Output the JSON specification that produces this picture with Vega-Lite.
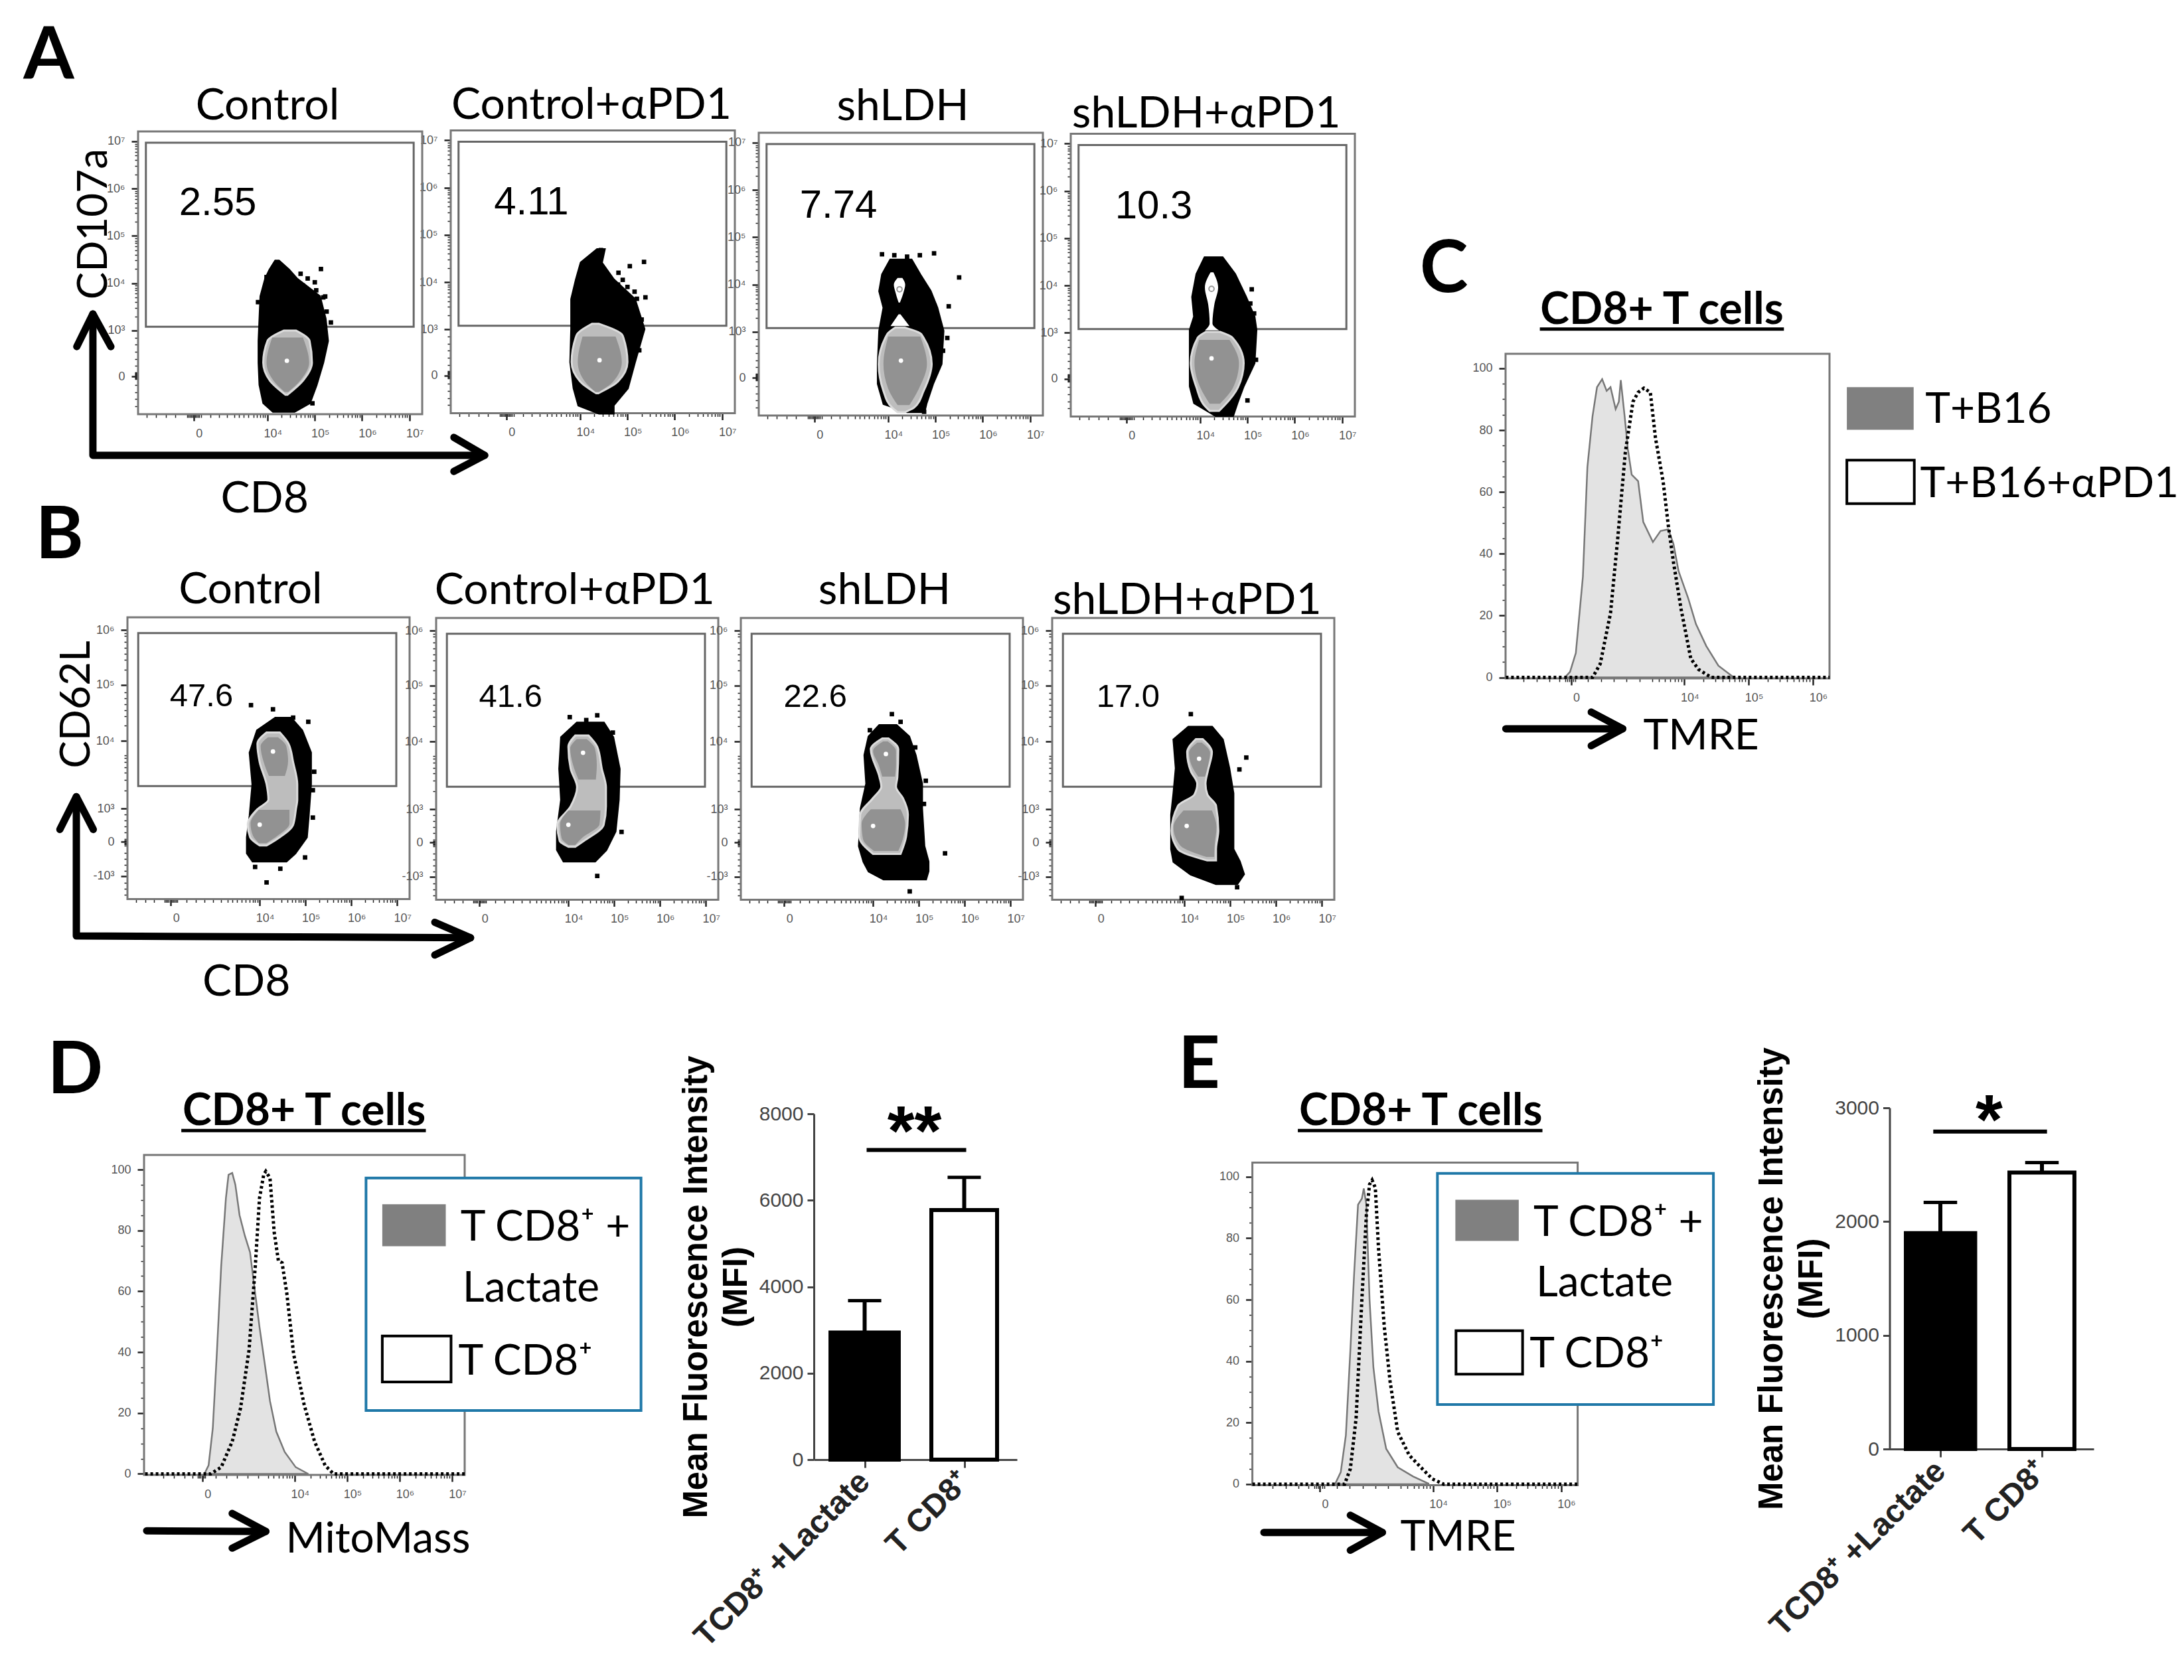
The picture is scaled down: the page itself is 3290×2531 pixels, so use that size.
{"$schema":"https://vega.github.io/schema/vega-lite/v6.json","padding":0,"background":"white","bounds":"flush","align":"none","columns":1,"spacing":{"row":-2531,"column":0},
"config":{"view":{"stroke":null},"mark":{"color":"#000"},"axis":{"grid":false,"domain":false,"tickColor":"#222","tickWidth":2.5,"tickSize":10,"labelFont":"Liberation Sans","labelFontSize":18,"labelColor":"#555","labelPadding":10,"labelFlush":false,"labelOverlap":false,"labelLimit":600},"axisX":{"labelOffset":8},
"style":{"ttl":{"font":"Lato","fontSize":66,"align":"center","baseline":"middle"},"val":{"font":"Liberation Sans","fontSize":60,"align":"left","baseline":"middle"},"valb":{"font":"Liberation Sans","fontSize":49,"align":"left","baseline":"middle"},"let":{"font":"Lato","fontSize":110,"fontWeight":"bold","align":"left","baseline":"middle"},"rot":{"font":"Lato","fontSize":62,"angle":270,"align":"center","baseline":"middle"},"hd":{"font":"Lato","fontSize":66,"fontWeight":"bold","align":"center","baseline":"middle"},"lg":{"font":"Lato","fontSize":64,"align":"left","baseline":"middle"},"gate":{"fillOpacity":0,"stroke":"#666","strokeWidth":3},"fr":{"fillOpacity":0,"stroke":"#777","strokeWidth":3},"blob":{"stroke":"#000","strokeWidth":4},"c1":{"interpolate":"monotone","stroke":"#dcdcdc","strokeWidth":3},"c2":{"interpolate":"monotone"},"hole":{"interpolate":"monotone"},"wp":{"size":45,"opacity":1},"bp":{"size":45,"opacity":1},"rg":{"stroke":"#999","strokeWidth":2,"size":60,"opacity":1},"arr":{"strokeWidth":11,"strokeCap":"round","strokeJoin":"round"},"ln":{"strokeWidth":5},"hg":{"stroke":"#777","strokeWidth":2.5},"hdot":{"strokeWidth":5,"strokeDash":[4,4]},"box":{"stroke":"#1f78a8","strokeWidth":4},"swk":{"stroke":"#000","strokeWidth":4},"bar":{"stroke":"#000","strokeWidth":6},"star":{"font":"Liberation Sans","fontSize":105,"fontWeight":"bold","align":"center","baseline":"middle"},"er":{"strokeWidth":6}}},
"datasets":{
"fa":[{"x":1.265,"x2":7.27,"y":1.23,"y2":7.21}],"fb":[{"x":1.115,"x2":7.27,"y":1.48,"y2":6.216}],"fc":[{"x":1.216,"x2":6.26,"y":-0.3,"y2":104.7}],"fd":[{"x":1.13,"x2":7.24,"y":-0.33,"y2":104.8}],"fe":[{"x":1.18,"x2":6.26,"y":-0.33,"y2":104.6}],
"ga":[{"x":1.43,"x2":7.09,"y":6.97,"y2":3.08}],"gb":[{"x":1.35,"x2":6.98,"y":5.95,"y2":3.38}],
"arA":[{"x":0.31,"y":3.35,"i":1,"g":"a"},{"x":0.31,"y":0.36,"i":2,"g":"a"},{"x":8.59,"y":0.36,"i":3,"g":"a"},{"x":-0.03,"y":2.66,"i":1,"g":"b"},{"x":0.31,"y":3.35,"i":2,"g":"b"},{"x":0.69,"y":2.66,"i":3,"g":"b"},{"x":7.94,"y":0.74,"i":1,"g":"c"},{"x":8.59,"y":0.36,"i":2,"g":"c"},{"x":7.94,"y":0.02,"i":3,"g":"c"}],
"arB":[{"x":0,"y":3.2,"i":1,"g":"a"},{"x":0,"y":0.86,"i":2,"g":"a"},{"x":8.6,"y":0.83,"i":3,"g":"a"},{"x":-0.36,"y":2.65,"i":1,"g":"b"},{"x":0,"y":3.2,"i":2,"g":"b"},{"x":0.37,"y":2.65,"i":3,"g":"b"},{"x":7.82,"y":1.09,"i":1,"g":"c"},{"x":8.6,"y":0.83,"i":2,"g":"c"},{"x":7.82,"y":0.54,"i":3,"g":"c"}],
"a1b":[{"y":4.47,"x":4.17,"x2":4.24},{"y":4.28,"x":4.05,"x2":4.45},{"y":4.09,"x":3.96,"x2":4.62},{"y":3.72,"x":3.86,"x2":5.1},{"y":3.25,"x":3.84,"x2":5.22},{"y":2.78,"x":3.82,"x2":5.27},{"y":2.32,"x":3.82,"x2":5.17},{"y":1.85,"x":3.84,"x2":5.03},{"y":1.47,"x":3.92,"x2":4.89},{"y":1.29,"x":4.12,"x2":4.57}],
"a1c":[{"y":3,"x":4.35,"x2":4.6},{"y":2.78,"x":4,"x2":4.89},{"y":2.32,"x":3.91,"x2":4.94},{"y":1.94,"x":4.05,"x2":4.75},{"y":1.64,"x":4.38,"x2":4.42}],
"a1d":[{"y":2.85,"x":4.1,"x2":4.75},{"y":2.32,"x":3.98,"x2":4.88},{"y":1.95,"x":4.12,"x2":4.7},{"y":1.7,"x":4.36,"x2":4.44}],
"a1w":[{"x":4.41,"y":2.36}],
"a1p":[{"x":5.13,"y":4.3},{"x":5.34,"y":3.17},{"x":4.95,"y":1.46},{"x":3.98,"y":4.13},{"x":5.22,"y":3.72},{"x":5.1,"y":3.32},{"x":4.85,"y":4.1},{"x":5,"y":4.02},{"x":4.75,"y":3.95},{"x":5.03,"y":3.85},{"x":4.95,"y":3.8},{"x":5.18,"y":3.7},{"x":5.25,"y":3.4},{"x":4.7,"y":4.2},{"x":3.8,"y":3.6}],
"a1v":[{"x":2.13,"y":5.7,"t":"2.55"}],"a1t":[{"x":4,"y":7.75,"t":"Control"},{"x":3.94,"y":-0.56,"t":"CD8"}],"a1r":[{"x":0.34,"y":5.25,"t":"CD107a"}],"a1l":[{"x":-1.16,"y":8.8,"t":"A"}],
"a2b":[{"y":4.69,"x":4.36,"x2":4.51},{"y":4.41,"x":4.02,"x2":4.45},{"y":4.06,"x":3.92,"x2":4.7},{"y":3.64,"x":3.82,"x2":5.15},{"y":3.01,"x":3.82,"x2":5.35},{"y":2.31,"x":3.8,"x2":5.15},{"y":1.76,"x":3.87,"x2":5},{"y":1.4,"x":3.97,"x2":4.7},{"y":1.23,"x":4.4,"x2":4.7}],
"a2c":[{"y":3.12,"x":4.25,"x2":4.4},{"y":2.87,"x":3.92,"x2":4.9},{"y":2.31,"x":3.82,"x2":5},{"y":1.9,"x":4,"x2":4.8},{"y":1.65,"x":4.34,"x2":4.38}],
"a2d":[{"y":2.85,"x":4.05,"x2":4.75},{"y":2.31,"x":3.95,"x2":4.88},{"y":1.9,"x":4.1,"x2":4.7},{"y":1.68,"x":4.32,"x2":4.4}],
"a2w":[{"x":4.41,"y":2.35}],
"a2p":[{"x":4.44,"y":4.68},{"x":5.35,"y":4.43},{"x":5.05,"y":4.34},{"x":5.38,"y":3.68},{"x":5.3,"y":3.21},{"x":5.25,"y":2.56},{"x":4.81,"y":4.2},{"x":4.46,"y":1.28},{"x":4.66,"y":1.27},{"x":4.8,"y":3.95},{"x":5,"y":3.9},{"x":5.15,"y":3.8},{"x":5.2,"y":3.65},{"x":4.9,"y":4.05}],
"a2v":[{"x":2.18,"y":5.69,"t":"4.11"}],"a2t":[{"x":4.24,"y":7.73,"t":"Control+αPD1"}],
"a3b":[{"y":4.52,"x":4.05,"x2":4.49},{"y":4.21,"x":3.88,"x2":4.67},{"y":3.86,"x":3.82,"x2":4.89},{"y":3.51,"x":3.91,"x2":5.03},{"y":3.02,"x":3.82,"x2":5.16},{"y":2.32,"x":3.79,"x2":5.12},{"y":1.9,"x":3.79,"x2":4.94},{"y":1.48,"x":3.91,"x2":4.8},{"y":1.31,"x":4.4,"x2":4.76}],
"a3h":[{"y":4.14,"x":4.2,"x2":4.3,"g":"a"},{"y":4,"x":4.12,"x2":4.36,"g":"a"},{"y":3.85,"x":4.15,"x2":4.33,"g":"a"},{"y":3.62,"x":4.22,"x2":4.25,"g":"a"},{"y":3.37,"x":4.22,"x2":4.26,"g":"b"},{"y":3.12,"x":4.05,"x2":4.45,"g":"b"}],
"a3c":[{"y":3.09,"x":4.15,"x2":4.35},{"y":2.95,"x":3.98,"x2":4.7},{"y":2.32,"x":3.8,"x2":4.92},{"y":1.75,"x":3.9,"x2":4.75},{"y":1.4,"x":4.08,"x2":4.55},{"y":1.3,"x":4.2,"x2":4.35}],
"a3d":[{"y":2.9,"x":4,"x2":4.68},{"y":2.32,"x":3.9,"x2":4.82},{"y":1.8,"x":4,"x2":4.65},{"y":1.45,"x":4.2,"x2":4.45}],
"a3w":[{"x":4.27,"y":2.39}],"a3g":[{"x":4.24,"y":3.9}],
"a3p":[{"x":3.87,"y":4.64},{"x":4.13,"y":4.62},{"x":4.4,"y":4.59},{"x":4.67,"y":4.62},{"x":4.97,"y":4.66},{"x":5.5,"y":4.15},{"x":5.28,"y":3.54},{"x":4.98,"y":3.55},{"x":5.25,"y":2.87},{"x":5.16,"y":2.6},{"x":4.76,"y":1.31}],
"a3v":[{"x":2.13,"y":5.67,"t":"7.74"}],"a3t":[{"x":4.31,"y":7.76,"t":"shLDH"}],
"a4b":[{"y":4.59,"x":4.1,"x2":4.47},{"y":4.24,"x":3.93,"x2":4.73},{"y":3.76,"x":3.84,"x2":4.96},{"y":3.34,"x":3.88,"x2":5.14},{"y":3.06,"x":3.79,"x2":5.18},{"y":2.36,"x":3.79,"x2":5.14},{"y":1.87,"x":3.79,"x2":4.91},{"y":1.52,"x":3.88,"x2":4.78},{"y":1.25,"x":4.33,"x2":4.69}],
"a4h":[{"y":4.28,"x":4.22,"x2":4.28},{"y":3.96,"x":4.1,"x2":4.38},{"y":3.6,"x":4.17,"x2":4.3},{"y":3.2,"x":4.2,"x2":4.26},{"y":3.05,"x":4.1,"x2":4.4}],
"a4c":[{"y":3.02,"x":4.12,"x2":4.42},{"y":2.9,"x":3.95,"x2":4.68},{"y":2.36,"x":3.8,"x2":4.92},{"y":1.85,"x":3.92,"x2":4.8},{"y":1.45,"x":4.1,"x2":4.5},{"y":1.35,"x":4.2,"x2":4.4}],
"a4d":[{"y":2.85,"x":3.98,"x2":4.62},{"y":2.36,"x":3.88,"x2":4.82},{"y":1.85,"x":4,"x2":4.7},{"y":1.5,"x":4.2,"x2":4.42}],
"a4w":[{"x":4.24,"y":2.46}],"a4g":[{"x":4.24,"y":3.93}],
"a4p":[{"x":5.09,"y":3.92},{"x":5.14,"y":3.41},{"x":5.06,"y":3.62},{"x":5,"y":1.57},{"x":5.18,"y":2.43}],
"a4v":[{"x":2.2,"y":5.67,"t":"10.3"}],"a4t":[{"x":4.13,"y":7.62,"t":"shLDH+αPD1"}],
"b1b":[{"y":4.52,"x":4.34,"x2":4.68},{"y":4.31,"x":3.95,"x2":4.92},{"y":3.94,"x":3.79,"x2":5.11},{"y":3.41,"x":3.85,"x2":5.11},{"y":2.88,"x":3.79,"x2":5.06},{"y":2.52,"x":3.73,"x2":5.02},{"y":2.25,"x":3.73,"x2":4.77},{"y":2.12,"x":3.85,"x2":4.58}],
"b1c":[{"y":4.28,"x":4.15,"x2":4.44},{"y":4.09,"x":3.95,"x2":4.63},{"y":3.78,"x":4,"x2":4.73},{"y":3.41,"x":4.15,"x2":4.82},{"y":3.15,"x":4.19,"x2":4.82},{"y":2.99,"x":3.95,"x2":4.79},{"y":2.73,"x":3.74,"x2":4.73},{"y":2.52,"x":3.79,"x2":4.44},{"y":2.38,"x":4,"x2":4.15}],
"b1d":[{"y":4.2,"x":4.18,"x2":4.4,"g":"a"},{"y":4.05,"x":4.02,"x2":4.58,"g":"a"},{"y":3.8,"x":4.08,"x2":4.62,"g":"a"},{"y":3.55,"x":4.2,"x2":4.55,"g":"a"},{"y":2.98,"x":3.98,"x2":4.65,"g":"b"},{"y":2.75,"x":3.8,"x2":4.65,"g":"b"},{"y":2.55,"x":3.85,"x2":4.4,"g":"b"},{"y":2.42,"x":3.98,"x2":4.15,"g":"b"}],
"b1w":[{"x":4.29,"y":3.96},{"x":4,"y":2.73}],
"b1p":[{"x":3.81,"y":4.74},{"x":4.29,"y":4.67},{"x":4.73,"y":4.53},{"x":5.06,"y":4.46},{"x":5.19,"y":3.62},{"x":5.16,"y":3.31},{"x":5.16,"y":2.85},{"x":4.99,"y":2.18},{"x":4.45,"y":1.99},{"x":4.15,"y":1.76},{"x":3.9,"y":2.02}],
"b1v":[{"x":2.04,"y":4.89,"t":"47.6"}],"b1t":[{"x":3.8,"y":6.67,"t":"Control"},{"x":3.71,"y":0.08,"t":"CD8"}],"b1r":[{"x":0.02,"y":4.75,"t":"CD62L"}],"b1l":[{"x":-0.89,"y":7.58,"t":"B"}],
"b2b":[{"y":4.45,"x":4.19,"x2":4.77},{"y":4.21,"x":3.85,"x2":4.97},{"y":3.68,"x":3.81,"x2":5.11},{"y":3.16,"x":3.85,"x2":5.09},{"y":2.63,"x":3.76,"x2":5.02},{"y":2.32,"x":3.76,"x2":4.82},{"y":2.13,"x":3.9,"x2":4.58}],
"b2c":[{"y":4.24,"x":4.15,"x2":4.44},{"y":4.05,"x":4,"x2":4.63},{"y":3.68,"x":4.05,"x2":4.73},{"y":3.37,"x":4.19,"x2":4.82},{"y":3.05,"x":4.05,"x2":4.82},{"y":2.74,"x":3.76,"x2":4.77},{"y":2.47,"x":3.81,"x2":4.34},{"y":2.37,"x":4,"x2":4.15}],
"b2d":[{"y":4.18,"x":4.18,"x2":4.4,"g":"a"},{"y":4.02,"x":4.04,"x2":4.58,"g":"a"},{"y":3.75,"x":4.1,"x2":4.62,"g":"a"},{"y":3.5,"x":4.22,"x2":4.6,"g":"a"},{"y":2.98,"x":4,"x2":4.7,"g":"b"},{"y":2.75,"x":3.82,"x2":4.68,"g":"b"},{"y":2.52,"x":3.85,"x2":4.3,"g":"b"},{"y":2.4,"x":4,"x2":4.15,"g":"b"}],
"b2w":[{"x":4.32,"y":3.95},{"x":4,"y":2.74}],
"b2p":[{"x":4.03,"y":4.55},{"x":4.63,"y":4.58},{"x":4.39,"y":4.5},{"x":5.16,"y":2.62},{"x":4.63,"y":1.88},{"x":4.97,"y":4.29}],
"b2v":[{"x":2.05,"y":4.89,"t":"41.6"}],"b2t":[{"x":4.14,"y":6.67,"t":"Control+αPD1"}],
"b3b":[{"y":4.41,"x":4.14,"x2":4.51},{"y":4.22,"x":3.91,"x2":4.78},{"y":3.91,"x":3.82,"x2":4.92},{"y":3.43,"x":3.86,"x2":5.06},{"y":3.01,"x":3.74,"x2":5.06},{"y":2.38,"x":3.7,"x2":5.11},{"y":2.12,"x":3.8,"x2":5.2},{"y":1.96,"x":3.91,"x2":5.2},{"y":1.83,"x":4.23,"x2":5.15}],
"b3c":[{"y":4.19,"x":4.2,"x2":4.34},{"y":4.01,"x":3.95,"x2":4.55},{"y":3.54,"x":4.14,"x2":4.53},{"y":3.38,"x":4.18,"x2":4.5},{"y":3.19,"x":4,"x2":4.65},{"y":2.91,"x":3.72,"x2":4.76},{"y":2.54,"x":3.7,"x2":4.72},{"y":2.25,"x":4,"x2":4.6}],
"b3d":[{"y":4.14,"x":4.22,"x2":4.32,"g":"a"},{"y":3.98,"x":4,"x2":4.5,"g":"a"},{"y":3.75,"x":4.12,"x2":4.5,"g":"a"},{"y":3.55,"x":4.2,"x2":4.48,"g":"a"},{"y":3,"x":3.95,"x2":4.6,"g":"b"},{"y":2.75,"x":3.75,"x2":4.7,"g":"b"},{"y":2.5,"x":3.78,"x2":4.65,"g":"b"},{"y":2.3,"x":4.02,"x2":4.55,"g":"b"}],
"b3w":[{"x":4.28,"y":3.93},{"x":4,"y":2.72}],
"b3p":[{"x":4.41,"y":4.6},{"x":4.6,"y":4.47},{"x":3.93,"y":4.33},{"x":5.15,"y":3.48},{"x":5.11,"y":3.09},{"x":5.57,"y":2.26},{"x":4.8,"y":1.62},{"x":4.92,"y":4.04}],
"b3v":[{"x":2.05,"y":4.89,"t":"22.6"}],"b3t":[{"x":4.25,"y":6.67,"t":"shLDH"}],
"b4b":[{"y":4.38,"x":4.09,"x2":4.6},{"y":4.17,"x":3.77,"x2":4.83},{"y":3.69,"x":3.82,"x2":4.97},{"y":3.27,"x":3.77,"x2":5.06},{"y":2.91,"x":3.72,"x2":5.06},{"y":2.33,"x":3.72,"x2":5.06},{"y":2.12,"x":3.77,"x2":5.2},{"y":1.91,"x":4.14,"x2":5.29},{"y":1.75,"x":4.69,"x2":5.15}],
"b4c":[{"y":4.18,"x":4.25,"x2":4.4},{"y":3.96,"x":4.06,"x2":4.6},{"y":3.64,"x":4.14,"x2":4.51},{"y":3.43,"x":4.28,"x2":4.46},{"y":3.25,"x":4.22,"x2":4.5},{"y":3.06,"x":3.86,"x2":4.69},{"y":2.64,"x":3.72,"x2":4.74},{"y":2.33,"x":3.86,"x2":4.69},{"y":2.14,"x":4.5,"x2":4.69}],
"b4d":[{"y":4.12,"x":4.28,"x2":4.38,"g":"a"},{"y":3.95,"x":4.1,"x2":4.56,"g":"a"},{"y":3.75,"x":4.15,"x2":4.52,"g":"a"},{"y":3.55,"x":4.3,"x2":4.45,"g":"a"},{"y":2.98,"x":3.98,"x2":4.6,"g":"b"},{"y":2.7,"x":3.76,"x2":4.7,"g":"b"},{"y":2.4,"x":3.9,"x2":4.66,"g":"b"},{"y":2.2,"x":4.48,"x2":4.65,"g":"b"}],
"b4w":[{"x":4.32,"y":3.85},{"x":4.05,"y":2.72}],
"b4p":[{"x":4.14,"y":4.6},{"x":5.35,"y":3.87},{"x":5.2,"y":3.67},{"x":5.15,"y":1.69},{"x":3.94,"y":1.51}],
"b4v":[{"x":2.08,"y":4.89,"t":"17.0"}],"b4t":[{"x":4.06,"y":6.51,"t":"shLDH+αPD1"}],
"cg":[{"x":2.14,"y":0},{"x":2.22,"y":1.8},{"x":2.31,"y":7.9},{"x":2.42,"y":32.6},{"x":2.49,"y":68},{"x":2.57,"y":84.5},{"x":2.64,"y":93.9},{"x":2.72,"y":96.5},{"x":2.79,"y":92.7},{"x":2.85,"y":93.9},{"x":2.93,"y":86.8},{"x":2.98,"y":89.2},{"x":3.01,"y":96.2},{"x":3.07,"y":84.5},{"x":3.12,"y":73.9},{"x":3.18,"y":65.6},{"x":3.28,"y":63.5},{"x":3.36,"y":50.3},{"x":3.51,"y":43.8},{"x":3.63,"y":47.4},{"x":3.75,"y":47.9},{"x":3.83,"y":43.2},{"x":3.91,"y":34.4},{"x":4.06,"y":25.6},{"x":4.18,"y":17.3},{"x":4.34,"y":10.2},{"x":4.53,"y":3.8},{"x":4.77,"y":0}],
"cd":[{"x":1.22,"y":0},{"x":2.57,"y":0},{"x":2.69,"y":4.4},{"x":2.85,"y":20.8},{"x":2.96,"y":44.4},{"x":3.08,"y":72.7},{"x":3.2,"y":89.2},{"x":3.28,"y":92.2},{"x":3.37,"y":93.6},{"x":3.47,"y":92.2},{"x":3.55,"y":77.5},{"x":3.67,"y":63.3},{"x":3.75,"y":49.1},{"x":3.83,"y":37.3},{"x":3.95,"y":22},{"x":4.1,"y":6.1},{"x":4.22,"y":2.6},{"x":4.42,"y":0},{"x":6.26,"y":0}],
"cs1":[{"x":6.53,"x2":7.57,"y":93.9,"y2":80.1}],"cs2":[{"x":6.53,"x2":7.58,"y":70.3,"y2":56.2}],
"ctx":[{"x":7.75,"y":86.4,"t":"T+B16"},{"x":7.67,"y":62.3,"t":"T+B16+αPD1"},{"x":3.36,"y":-19.3,"t":"TMRE"}],
"car":[{"x":1.22,"y":-16.6,"i":1,"g":"a"},{"x":3.04,"y":-16.6,"i":2,"g":"a"},{"x":2.55,"y":-11.2,"i":1,"g":"b"},{"x":3.04,"y":-16.6,"i":2,"g":"b"},{"x":2.55,"y":-22.1,"i":3,"g":"b"}],
"chd":[{"x":3.65,"y":118.6,"t":"CD8+ T cells"}],"cul":[{"x":1.75,"x2":5.55,"y":112.7}],"cl":[{"x":-0.12,"y":131.7,"t":"C"}],
"dg":[{"x":2.28,"y":0},{"x":2.36,"y":2.8},{"x":2.44,"y":15},{"x":2.52,"y":40.6},{"x":2.6,"y":68.3},{"x":2.69,"y":90.6},{"x":2.74,"y":98.3},{"x":2.81,"y":98.9},{"x":2.87,"y":95},{"x":2.95,"y":85},{"x":3.05,"y":78.3},{"x":3.15,"y":72.8},{"x":3.23,"y":61.7},{"x":3.33,"y":48.3},{"x":3.44,"y":35},{"x":3.53,"y":23.9},{"x":3.65,"y":13.9},{"x":3.81,"y":7.2},{"x":4.02,"y":2.2},{"x":4.26,"y":0}],
"dd":[{"x":1.15,"y":0},{"x":2.4,"y":0},{"x":2.6,"y":2.2},{"x":2.81,"y":10.6},{"x":2.97,"y":21.7},{"x":3.13,"y":40.6},{"x":3.25,"y":68.3},{"x":3.33,"y":90.6},{"x":3.41,"y":98.3},{"x":3.45,"y":99.4},{"x":3.53,"y":97.2},{"x":3.61,"y":79.4},{"x":3.69,"y":70},{"x":3.76,"y":69.4},{"x":3.85,"y":59.4},{"x":3.98,"y":39.4},{"x":4.18,"y":22.8},{"x":4.38,"y":10.6},{"x":4.58,"y":2.8},{"x":4.74,"y":0},{"x":7.24,"y":0}],
"dbx":[{"x":5.36,"x2":10.6,"y":97.2,"y2":20.8}],"ds1":[{"x":5.67,"x2":6.88,"y":88.6,"y2":74.8}],"ds2":[{"x":5.67,"x2":6.98,"y":45.3,"y2":30.2}],
"dtx":[{"x":7.16,"y":80.7,"t":"T CD8⁺ +"},{"x":7.2,"y":60.7,"t":"Lactate"},{"x":7.12,"y":36.8,"t":"T CD8⁺"},{"x":3.83,"y":-21.6,"t":"MitoMass"}],
"dar":[{"x":1.18,"y":-18.7,"i":1,"g":"a"},{"x":3.45,"y":-18.9,"i":2,"g":"a"},{"x":2.81,"y":-13,"i":1,"g":"b"},{"x":3.45,"y":-18.9,"i":2,"g":"b"},{"x":2.81,"y":-24.4,"i":3,"g":"b"}],
"dhd":[{"x":4.18,"y":119,"t":"CD8+ T cells"}],"dul":[{"x":1.84,"x2":6.5,"y":112.8}],"dl":[{"x":-0.71,"y":132.3,"t":"D"}],
"eg":[{"x":2.47,"y":0},{"x":2.56,"y":3.9},{"x":2.64,"y":15.9},{"x":2.71,"y":43.5},{"x":2.77,"y":68.8},{"x":2.83,"y":90.9},{"x":2.89,"y":92.9},{"x":2.92,"y":96.2},{"x":2.96,"y":90.9},{"x":3.01,"y":60},{"x":3.07,"y":38},{"x":3.15,"y":23.7},{"x":3.27,"y":11.5},{"x":3.45,"y":5.5},{"x":3.69,"y":2.5},{"x":3.93,"y":0.2}],
"ed":[{"x":1.18,"y":0},{"x":2.62,"y":0},{"x":2.71,"y":5},{"x":2.8,"y":21.5},{"x":2.89,"y":60},{"x":2.96,"y":87.5},{"x":3.01,"y":97.5},{"x":3.05,"y":98.9},{"x":3.1,"y":96.4},{"x":3.15,"y":76.6},{"x":3.24,"y":51.2},{"x":3.33,"y":33.5},{"x":3.45,"y":17},{"x":3.63,"y":9.4},{"x":3.81,"y":5.5},{"x":3.99,"y":1.7},{"x":4.17,"y":0},{"x":6.26,"y":0}],
"ebx":[{"x":4.07,"x2":8.38,"y":101.1,"y2":25.9}],"es1":[{"x":4.35,"x2":5.34,"y":92.5,"y2":79.1}],"es2":[{"x":4.36,"x2":5.4,"y":49.9,"y2":35.8}],
"etx":[{"x":5.57,"y":84.9,"t":"T CD8⁺ +"},{"x":5.61,"y":65.1,"t":"Lactate"},{"x":5.51,"y":42,"t":"T CD8⁺"},{"x":3.49,"y":-17.5,"t":"TMRE"}],
"ear":[{"x":1.36,"y":-15.7,"i":1,"g":"a"},{"x":3.21,"y":-15.7,"i":2,"g":"a"},{"x":2.71,"y":-10.1,"i":1,"g":"b"},{"x":3.21,"y":-15.7,"i":2,"g":"b"},{"x":2.71,"y":-21.5,"i":3,"g":"b"}],
"ehd":[{"x":3.81,"y":121.2,"t":"CD8+ T cells"}],"eul":[{"x":1.89,"x2":5.71,"y":115}],"el":[{"x":0.02,"y":136.1,"t":"E"}],
"dbb":[{"x":0.657,"x2":1.343,"y":2939,"y2":0,"g":"k"},{"x":1.67,"x2":2.33,"y":5772,"y2":0,"g":"w"}],
"dbe":[{"x":1,"y":2939,"y2":3678},{"x":2,"y":5772,"y2":6530}],
"dbc":[{"x":0.833,"x2":1.167,"y":3678},{"x":1.833,"x2":2.167,"y":6530}],
"dbs":[{"x":1.02,"x2":2.02,"y":7165}],"dbt":[{"x":1.5,"y":7540,"t":"**"}],
"ebb":[{"x":0.66,"x2":1.343,"y":1899,"y2":0,"g":"k"},{"x":1.68,"x2":2.32,"y":2431,"y2":0,"g":"w"}],
"ebe":[{"x":1,"y":1899,"y2":2169},{"x":2,"y":2431,"y2":2519}],
"ebc":[{"x":0.835,"x2":1.165,"y":2169},{"x":1.835,"x2":2.165,"y":2519}],
"ebs":[{"x":0.93,"x2":2.05,"y":2792}],"ebt":[{"x":1.48,"y":2870,"t":"*"}]
},
"concat":[
{"width":3290,"height":2531,"encoding":{"x":{"field":"x","type":"quantitative","title":null,"scale":{"domain":[1.265,7.27],"range":[679,1107],"nice":false,"zero":false},"axis":{"title":null,"offset":-1908.5,"tickSize":{"condition":{"test":"datum.value%1==0||datum.value==2.44","value":10},"value":5},"tickWidth":{"condition":{"test":"datum.value%1==0||datum.value==2.44","value":2.5},"value":1.5},"values":[1.45,1.65,1.85,2.05,2.3,2.33,2.36,2.39,2.41,2.44,2.47,2.5,2.53,2.56,2.6,2.8,2.98,3.15,3.3,3.4,3.5,3.6,3.7,3.78,3.85,3.9,3.95,4,4.3,4.48,4.6,4.7,4.78,4.85,4.9,4.95,5,5.3,5.48,5.6,5.7,5.78,5.85,5.9,5.95,6,6.3,6.48,6.6,6.7,6.78,6.85,6.9,6.95,7],"labelExpr":"datum.value==2.44?'0':datum.value%1?'':'10'+{4:'⁴',5:'⁵',6:'⁶',7:'⁷'}[datum.value]"}},"y":{"field":"y","type":"quantitative","title":null,"scale":{"domain":[1.23,7.21],"range":[622.5,196.5],"nice":false,"zero":false},"axis":{"title":null,"offset":-679,"tickSize":{"condition":{"test":"datum.value%1==0||datum.value==2.03","value":10},"value":5},"tickWidth":{"condition":{"test":"datum.value%1==0||datum.value==2.03","value":2.5},"value":1.5},"values":[1.4,1.55,1.7,1.85,1.97,1.985,2.002,2.015,2.03,2.045,2.06,2.075,2.09,2.105,2.12,2.25,2.4,2.55,2.7,2.85,3,3.3,3.48,3.6,3.7,3.78,3.85,3.9,3.95,4,4.3,4.48,4.6,4.7,4.78,4.85,4.9,4.95,5,5.3,5.48,5.6,5.7,5.78,5.85,5.9,5.95,6,6.3,6.48,6.6,6.7,6.78,6.85,6.9,6.95,7],"labelExpr":"datum.value==2.03?'0':datum.value%1?'':'10'+{3:'³',4:'⁴',5:'⁵',6:'⁶',7:'⁷'}[datum.value]"}}},
"layer":[{"data":{"name":"fa"},"mark":{"type":"rect","style":"fr"},"encoding":{"x2":{"field":"x2"},"y2":{"field":"y2"}}},{"data":{"name":"ga"},"mark":{"type":"rect","style":"gate"},"encoding":{"x2":{"field":"x2"},"y2":{"field":"y2"}}},
{"data":{"name":"a2b"},"mark":{"type":"area","orient":"horizontal","style":"blob"},"encoding":{"x2":{"field":"x2"}}},
{"data":{"name":"a2c"},"mark":{"type":"area","orient":"horizontal","style":"c1","fill":"#bdbdbd"},"encoding":{"x2":{"field":"x2"}}},
{"data":{"name":"a2d"},"mark":{"type":"area","orient":"horizontal","style":"c2","fill":"#929292"},"encoding":{"x2":{"field":"x2"}}},
{"data":{"name":"a2w"},"mark":{"type":"circle","style":"wp","fill":"#fff"}},
{"data":{"name":"a2p"},"mark":{"type":"square","style":"bp"}},
{"data":{"name":"a2v"},"mark":{"type":"text","style":"val"},"encoding":{"text":{"field":"t"}}},
{"data":{"name":"a2t"},"mark":{"type":"text","style":"ttl"},"encoding":{"text":{"field":"t"}}}]},

{"width":3290,"height":2531,"encoding":{"x":{"field":"x","type":"quantitative","title":null,"scale":{"domain":[1.265,7.27],"range":[208,636],"nice":false,"zero":false},"axis":{"title":null,"offset":-1907,"tickSize":{"condition":{"test":"datum.value%1==0||datum.value==2.44","value":10},"value":5},"tickWidth":{"condition":{"test":"datum.value%1==0||datum.value==2.44","value":2.5},"value":1.5},"values":[1.45,1.65,1.85,2.05,2.3,2.33,2.36,2.39,2.41,2.44,2.47,2.5,2.53,2.56,2.6,2.8,2.98,3.15,3.3,3.4,3.5,3.6,3.7,3.78,3.85,3.9,3.95,4,4.3,4.48,4.6,4.7,4.78,4.85,4.9,4.95,5,5.3,5.48,5.6,5.7,5.78,5.85,5.9,5.95,6,6.3,6.48,6.6,6.7,6.78,6.85,6.9,6.95,7],"labelExpr":"datum.value==2.44?'0':datum.value%1?'':'10'+{4:'⁴',5:'⁵',6:'⁶',7:'⁷'}[datum.value]"}},"y":{"field":"y","type":"quantitative","title":null,"scale":{"domain":[1.23,7.21],"range":[624,198],"nice":false,"zero":false},"axis":{"title":null,"offset":-208,"tickSize":{"condition":{"test":"datum.value%1==0||datum.value==2.03","value":10},"value":5},"tickWidth":{"condition":{"test":"datum.value%1==0||datum.value==2.03","value":2.5},"value":1.5},"values":[1.4,1.55,1.7,1.85,1.97,1.985,2.002,2.015,2.03,2.045,2.06,2.075,2.09,2.105,2.12,2.25,2.4,2.55,2.7,2.85,3,3.3,3.48,3.6,3.7,3.78,3.85,3.9,3.95,4,4.3,4.48,4.6,4.7,4.78,4.85,4.9,4.95,5,5.3,5.48,5.6,5.7,5.78,5.85,5.9,5.95,6,6.3,6.48,6.6,6.7,6.78,6.85,6.9,6.95,7],"labelExpr":"datum.value==2.03?'0':datum.value%1?'':'10'+{3:'³',4:'⁴',5:'⁵',6:'⁶',7:'⁷'}[datum.value]"}}},
"layer":[{"data":{"name":"fa"},"mark":{"type":"rect","style":"fr"},"encoding":{"x2":{"field":"x2"},"y2":{"field":"y2"}}},{"data":{"name":"ga"},"mark":{"type":"rect","style":"gate"},"encoding":{"x2":{"field":"x2"},"y2":{"field":"y2"}}},
{"data":{"name":"a1b"},"mark":{"type":"area","orient":"horizontal","style":"blob"},"encoding":{"x2":{"field":"x2"}}},
{"data":{"name":"a1c"},"mark":{"type":"area","orient":"horizontal","style":"c1","fill":"#bdbdbd"},"encoding":{"x2":{"field":"x2"}}},
{"data":{"name":"a1d"},"mark":{"type":"area","orient":"horizontal","style":"c2","fill":"#929292"},"encoding":{"x2":{"field":"x2"}}},
{"data":{"name":"a1w"},"mark":{"type":"circle","style":"wp","fill":"#fff"}},
{"data":{"name":"a1p"},"mark":{"type":"square","style":"bp"}},
{"data":{"name":"a1v"},"mark":{"type":"text","style":"val"},"encoding":{"text":{"field":"t"}}},
{"data":{"name":"a1t"},"mark":{"type":"text","style":"ttl"},"encoding":{"text":{"field":"t"}}},
{"data":{"name":"a1r"},"mark":{"type":"text","style":"rot"},"encoding":{"text":{"field":"t"}}},
{"data":{"name":"a1l"},"mark":{"type":"text","style":"let"},"encoding":{"text":{"field":"t"}}},
{"data":{"name":"arA"},"mark":{"type":"line","style":"arr"},"encoding":{"order":{"field":"i","type":"quantitative"},"detail":{"field":"g"}}}]},

{"width":3290,"height":2531,"encoding":{"x":{"field":"x","type":"quantitative","title":null,"scale":{"domain":[1.265,7.27],"range":[1143,1571],"nice":false,"zero":false},"axis":{"title":null,"offset":-1905,"tickSize":{"condition":{"test":"datum.value%1==0||datum.value==2.44","value":10},"value":5},"tickWidth":{"condition":{"test":"datum.value%1==0||datum.value==2.44","value":2.5},"value":1.5},"values":[1.45,1.65,1.85,2.05,2.3,2.33,2.36,2.39,2.41,2.44,2.47,2.5,2.53,2.56,2.6,2.8,2.98,3.15,3.3,3.4,3.5,3.6,3.7,3.78,3.85,3.9,3.95,4,4.3,4.48,4.6,4.7,4.78,4.85,4.9,4.95,5,5.3,5.48,5.6,5.7,5.78,5.85,5.9,5.95,6,6.3,6.48,6.6,6.7,6.78,6.85,6.9,6.95,7],"labelExpr":"datum.value==2.44?'0':datum.value%1?'':'10'+{4:'⁴',5:'⁵',6:'⁶',7:'⁷'}[datum.value]"}},"y":{"field":"y","type":"quantitative","title":null,"scale":{"domain":[1.23,7.21],"range":[626,200],"nice":false,"zero":false},"axis":{"title":null,"offset":-1143,"tickSize":{"condition":{"test":"datum.value%1==0||datum.value==2.03","value":10},"value":5},"tickWidth":{"condition":{"test":"datum.value%1==0||datum.value==2.03","value":2.5},"value":1.5},"values":[1.4,1.55,1.7,1.85,1.97,1.985,2.002,2.015,2.03,2.045,2.06,2.075,2.09,2.105,2.12,2.25,2.4,2.55,2.7,2.85,3,3.3,3.48,3.6,3.7,3.78,3.85,3.9,3.95,4,4.3,4.48,4.6,4.7,4.78,4.85,4.9,4.95,5,5.3,5.48,5.6,5.7,5.78,5.85,5.9,5.95,6,6.3,6.48,6.6,6.7,6.78,6.85,6.9,6.95,7],"labelExpr":"datum.value==2.03?'0':datum.value%1?'':'10'+{3:'³',4:'⁴',5:'⁵',6:'⁶',7:'⁷'}[datum.value]"}}},
"layer":[{"data":{"name":"fa"},"mark":{"type":"rect","style":"fr"},"encoding":{"x2":{"field":"x2"},"y2":{"field":"y2"}}},{"data":{"name":"ga"},"mark":{"type":"rect","style":"gate"},"encoding":{"x2":{"field":"x2"},"y2":{"field":"y2"}}},
{"data":{"name":"a3b"},"mark":{"type":"area","orient":"horizontal","style":"blob"},"encoding":{"x2":{"field":"x2"}}},
{"data":{"name":"a3h"},"mark":{"type":"area","orient":"horizontal","style":"hole","fill":"#fff"},"encoding":{"x2":{"field":"x2"},"detail":{"field":"g"}}},
{"data":{"name":"a3g"},"mark":{"type":"circle","style":"rg","fill":"#fff"}},
{"data":{"name":"a3c"},"mark":{"type":"area","orient":"horizontal","style":"c1","fill":"#bdbdbd"},"encoding":{"x2":{"field":"x2"}}},
{"data":{"name":"a3d"},"mark":{"type":"area","orient":"horizontal","style":"c2","fill":"#929292"},"encoding":{"x2":{"field":"x2"}}},
{"data":{"name":"a3w"},"mark":{"type":"circle","style":"wp","fill":"#fff"}},
{"data":{"name":"a3p"},"mark":{"type":"square","style":"bp"}},
{"data":{"name":"a3v"},"mark":{"type":"text","style":"val"},"encoding":{"text":{"field":"t"}}},
{"data":{"name":"a3t"},"mark":{"type":"text","style":"ttl"},"encoding":{"text":{"field":"t"}}}]},

{"width":3290,"height":2531,"encoding":{"x":{"field":"x","type":"quantitative","title":null,"scale":{"domain":[1.265,7.27],"range":[1613,2041],"nice":false,"zero":false},"axis":{"title":null,"offset":-1903.5,"tickSize":{"condition":{"test":"datum.value%1==0||datum.value==2.44","value":10},"value":5},"tickWidth":{"condition":{"test":"datum.value%1==0||datum.value==2.44","value":2.5},"value":1.5},"values":[1.45,1.65,1.85,2.05,2.3,2.33,2.36,2.39,2.41,2.44,2.47,2.5,2.53,2.56,2.6,2.8,2.98,3.15,3.3,3.4,3.5,3.6,3.7,3.78,3.85,3.9,3.95,4,4.3,4.48,4.6,4.7,4.78,4.85,4.9,4.95,5,5.3,5.48,5.6,5.7,5.78,5.85,5.9,5.95,6,6.3,6.48,6.6,6.7,6.78,6.85,6.9,6.95,7],"labelExpr":"datum.value==2.44?'0':datum.value%1?'':'10'+{4:'⁴',5:'⁵',6:'⁶',7:'⁷'}[datum.value]"}},"y":{"field":"y","type":"quantitative","title":null,"scale":{"domain":[1.23,7.21],"range":[627.5,201.5],"nice":false,"zero":false},"axis":{"title":null,"offset":-1613,"tickSize":{"condition":{"test":"datum.value%1==0||datum.value==2.03","value":10},"value":5},"tickWidth":{"condition":{"test":"datum.value%1==0||datum.value==2.03","value":2.5},"value":1.5},"values":[1.4,1.55,1.7,1.85,1.97,1.985,2.002,2.015,2.03,2.045,2.06,2.075,2.09,2.105,2.12,2.25,2.4,2.55,2.7,2.85,3,3.3,3.48,3.6,3.7,3.78,3.85,3.9,3.95,4,4.3,4.48,4.6,4.7,4.78,4.85,4.9,4.95,5,5.3,5.48,5.6,5.7,5.78,5.85,5.9,5.95,6,6.3,6.48,6.6,6.7,6.78,6.85,6.9,6.95,7],"labelExpr":"datum.value==2.03?'0':datum.value%1?'':'10'+{3:'³',4:'⁴',5:'⁵',6:'⁶',7:'⁷'}[datum.value]"}}},
"layer":[{"data":{"name":"fa"},"mark":{"type":"rect","style":"fr"},"encoding":{"x2":{"field":"x2"},"y2":{"field":"y2"}}},{"data":{"name":"ga"},"mark":{"type":"rect","style":"gate"},"encoding":{"x2":{"field":"x2"},"y2":{"field":"y2"}}},
{"data":{"name":"a4b"},"mark":{"type":"area","orient":"horizontal","style":"blob"},"encoding":{"x2":{"field":"x2"}}},
{"data":{"name":"a4h"},"mark":{"type":"area","orient":"horizontal","style":"hole","fill":"#fff"},"encoding":{"x2":{"field":"x2"}}},
{"data":{"name":"a4g"},"mark":{"type":"circle","style":"rg","fill":"#fff"}},
{"data":{"name":"a4c"},"mark":{"type":"area","orient":"horizontal","style":"c1","fill":"#bdbdbd"},"encoding":{"x2":{"field":"x2"}}},
{"data":{"name":"a4d"},"mark":{"type":"area","orient":"horizontal","style":"c2","fill":"#929292"},"encoding":{"x2":{"field":"x2"}}},
{"data":{"name":"a4w"},"mark":{"type":"circle","style":"wp","fill":"#fff"}},
{"data":{"name":"a4p"},"mark":{"type":"square","style":"bp"}},
{"data":{"name":"a4v"},"mark":{"type":"text","style":"val"},"encoding":{"text":{"field":"t"}}},
{"data":{"name":"a4t"},"mark":{"type":"text","style":"ttl"},"encoding":{"text":{"field":"t"}}}]},

{"width":3290,"height":2531,"encoding":{"x":{"field":"x","type":"quantitative","title":null,"scale":{"domain":[1.216,6.26],"range":[2268,2756],"nice":false,"zero":false},"axis":{"title":null,"offset":-1509,"tickSize":{"condition":{"test":"datum.value%1==0||datum.value==2.235","value":10},"value":5},"tickWidth":{"condition":{"test":"datum.value%1==0||datum.value==2.235","value":2.5},"value":1.5},"values":[1.5,1.7,1.9,2.05,2.15,2.18,2.21,2.235,2.27,2.3,2.5,2.7,2.9,3.1,3.3,3.5,3.6,3.7,3.78,3.85,3.9,3.95,4,4.3,4.48,4.6,4.7,4.78,4.85,4.9,4.95,5,5.3,5.48,5.6,5.7,5.78,5.85,5.9,5.95,6],"labelExpr":"datum.value==2.235?'0':datum.value%1?'':'10'+{4:'⁴',5:'⁵',6:'⁶'}[datum.value]"}},"y":{"field":"y","type":"quantitative","title":null,"stack":null,"scale":{"domain":[-0.3,104.7],"range":[1022,533],"nice":false,"zero":false},"axis":{"title":null,"offset":-2268,"tickSize":{"condition":{"test":"datum.value%20==0","value":10},"value":5},"tickWidth":{"condition":{"test":"datum.value%20==0","value":2.5},"value":1.5},"values":[0,5,10,15,20,25,30,35,40,45,50,55,60,65,70,75,80,85,90,95,100],"labelExpr":"datum.value%20?'':datum.value"}}},
"layer":[{"data":{"name":"fc"},"mark":{"type":"rect","style":"fr"},"encoding":{"x2":{"field":"x2"},"y2":{"field":"y2"}}},
{"data":{"name":"cg"},"mark":{"type":"area","style":"hg","fill":"#e3e3e3"}},
{"data":{"name":"cd"},"mark":{"type":"line","style":"hdot"}},
{"data":{"name":"cs1"},"mark":{"type":"rect","fill":"#808080"},"encoding":{"x2":{"field":"x2"},"y2":{"field":"y2"}}},
{"data":{"name":"cs2"},"mark":{"type":"rect","style":"swk","fill":"#fff"},"encoding":{"x2":{"field":"x2"},"y2":{"field":"y2"}}},
{"data":{"name":"ctx"},"mark":{"type":"text","style":"lg"},"encoding":{"text":{"field":"t"}}},
{"data":{"name":"car"},"mark":{"type":"line","style":"arr"},"encoding":{"order":{"field":"i","type":"quantitative"},"detail":{"field":"g"}}},
{"data":{"name":"chd"},"mark":{"type":"text","style":"hd"},"encoding":{"text":{"field":"t"}}},
{"data":{"name":"cul"},"mark":{"type":"rule","style":"ln"},"encoding":{"x2":{"field":"x2"}}},
{"data":{"name":"cl"},"mark":{"type":"text","style":"let"},"encoding":{"text":{"field":"t"}}}]},

{"width":3290,"height":2531,"encoding":{"x":{"field":"x","type":"quantitative","title":null,"scale":{"domain":[1.115,7.27],"range":[192,617],"nice":false,"zero":false},"axis":{"title":null,"offset":-1176.5,"tickSize":{"condition":{"test":"datum.value%1==0||datum.value==2.06","value":10},"value":5},"tickWidth":{"condition":{"test":"datum.value%1==0||datum.value==2.06","value":2.5},"value":1.5},"values":[1.3,1.5,1.7,1.93,1.96,1.99,2.02,2.06,2.09,2.11,2.14,2.17,2.2,2.4,2.6,2.8,2.98,3.15,3.3,3.4,3.5,3.6,3.7,3.78,3.85,3.9,3.95,4,4.3,4.48,4.6,4.7,4.78,4.85,4.9,4.95,5,5.3,5.48,5.6,5.7,5.78,5.85,5.9,5.95,6,6.3,6.48,6.6,6.7,6.78,6.85,6.9,6.95,7],"labelExpr":"datum.value==2.06?'0':datum.value%1?'':'10'+{4:'⁴',5:'⁵',6:'⁶',7:'⁷'}[datum.value]"}},"y":{"field":"y","type":"quantitative","title":null,"scale":{"domain":[1.48,6.216],"range":[1354.5,930],"nice":false,"zero":false},"axis":{"title":null,"offset":-192,"tickSize":{"condition":{"test":"indexof([1.87,2.44,3,4.14,5.08,6],datum.value)>=0","value":10},"value":5},"tickWidth":{"condition":{"test":"indexof([1.87,2.44,3,4.14,5.08,6],datum.value)>=0","value":2.5},"value":1.5},"values":[1.55,1.65,1.75,1.87,1.95,2.05,2.15,2.25,2.38,2.395,2.41,2.425,2.44,2.455,2.47,2.485,2.6,2.7,2.8,2.9,3,3.3,3.48,3.6,3.7,3.78,3.85,3.9,4.14,4.4,4.55,4.65,4.75,4.85,4.95,5.08,5.33,5.5,5.6,5.7,5.8,5.9,5.95,6],"labelExpr":"datum.value==1.87?'-10³':datum.value==2.44?'0':datum.value==3?'10³':datum.value==4.14?'10⁴':datum.value==5.08?'10⁵':datum.value==6?'10⁶':''"}}},
"layer":[{"data":{"name":"fb"},"mark":{"type":"rect","style":"fr"},"encoding":{"x2":{"field":"x2"},"y2":{"field":"y2"}}},{"data":{"name":"gb"},"mark":{"type":"rect","style":"gate"},"encoding":{"x2":{"field":"x2"},"y2":{"field":"y2"}}},
{"data":{"name":"b1b"},"mark":{"type":"area","orient":"horizontal","style":"blob"},"encoding":{"x2":{"field":"x2"}}},
{"data":{"name":"b1c"},"mark":{"type":"area","orient":"horizontal","style":"c1","fill":"#bdbdbd"},"encoding":{"x2":{"field":"x2"}}},
{"data":{"name":"b1d"},"mark":{"type":"area","orient":"horizontal","style":"c2","fill":"#929292"},"encoding":{"x2":{"field":"x2"},"detail":{"field":"g"}}},
{"data":{"name":"b1w"},"mark":{"type":"circle","style":"wp","fill":"#fff"}},
{"data":{"name":"b1p"},"mark":{"type":"square","style":"bp"}},
{"data":{"name":"b1v"},"mark":{"type":"text","style":"valb"},"encoding":{"text":{"field":"t"}}},
{"data":{"name":"b1t"},"mark":{"type":"text","style":"ttl"},"encoding":{"text":{"field":"t"}}},
{"data":{"name":"b1r"},"mark":{"type":"text","style":"rot"},"encoding":{"text":{"field":"t"}}},
{"data":{"name":"b1l"},"mark":{"type":"text","style":"let"},"encoding":{"text":{"field":"t"}}},
{"data":{"name":"arB"},"mark":{"type":"line","style":"arr"},"encoding":{"order":{"field":"i","type":"quantitative"},"detail":{"field":"g"}}}]},

{"width":3290,"height":2531,"encoding":{"x":{"field":"x","type":"quantitative","title":null,"scale":{"domain":[1.115,7.27],"range":[657,1082],"nice":false,"zero":false},"axis":{"title":null,"offset":-1175.5,"tickSize":{"condition":{"test":"datum.value%1==0||datum.value==2.06","value":10},"value":5},"tickWidth":{"condition":{"test":"datum.value%1==0||datum.value==2.06","value":2.5},"value":1.5},"values":[1.3,1.5,1.7,1.93,1.96,1.99,2.02,2.06,2.09,2.11,2.14,2.17,2.2,2.4,2.6,2.8,2.98,3.15,3.3,3.4,3.5,3.6,3.7,3.78,3.85,3.9,3.95,4,4.3,4.48,4.6,4.7,4.78,4.85,4.9,4.95,5,5.3,5.48,5.6,5.7,5.78,5.85,5.9,5.95,6,6.3,6.48,6.6,6.7,6.78,6.85,6.9,6.95,7],"labelExpr":"datum.value==2.06?'0':datum.value%1?'':'10'+{4:'⁴',5:'⁵',6:'⁶',7:'⁷'}[datum.value]"}},"y":{"field":"y","type":"quantitative","title":null,"scale":{"domain":[1.48,6.216],"range":[1355.5,931],"nice":false,"zero":false},"axis":{"title":null,"offset":-657,"tickSize":{"condition":{"test":"indexof([1.87,2.44,3,4.14,5.08,6],datum.value)>=0","value":10},"value":5},"tickWidth":{"condition":{"test":"indexof([1.87,2.44,3,4.14,5.08,6],datum.value)>=0","value":2.5},"value":1.5},"values":[1.55,1.65,1.75,1.87,1.95,2.05,2.15,2.25,2.38,2.395,2.41,2.425,2.44,2.455,2.47,2.485,2.6,2.7,2.8,2.9,3,3.3,3.48,3.6,3.7,3.78,3.85,3.9,4.14,4.4,4.55,4.65,4.75,4.85,4.95,5.08,5.33,5.5,5.6,5.7,5.8,5.9,5.95,6],"labelExpr":"datum.value==1.87?'-10³':datum.value==2.44?'0':datum.value==3?'10³':datum.value==4.14?'10⁴':datum.value==5.08?'10⁵':datum.value==6?'10⁶':''"}}},
"layer":[{"data":{"name":"fb"},"mark":{"type":"rect","style":"fr"},"encoding":{"x2":{"field":"x2"},"y2":{"field":"y2"}}},{"data":{"name":"gb"},"mark":{"type":"rect","style":"gate"},"encoding":{"x2":{"field":"x2"},"y2":{"field":"y2"}}},
{"data":{"name":"b2b"},"mark":{"type":"area","orient":"horizontal","style":"blob"},"encoding":{"x2":{"field":"x2"}}},
{"data":{"name":"b2c"},"mark":{"type":"area","orient":"horizontal","style":"c1","fill":"#bdbdbd"},"encoding":{"x2":{"field":"x2"}}},
{"data":{"name":"b2d"},"mark":{"type":"area","orient":"horizontal","style":"c2","fill":"#929292"},"encoding":{"x2":{"field":"x2"},"detail":{"field":"g"}}},
{"data":{"name":"b2w"},"mark":{"type":"circle","style":"wp","fill":"#fff"}},
{"data":{"name":"b2p"},"mark":{"type":"square","style":"bp"}},
{"data":{"name":"b2v"},"mark":{"type":"text","style":"valb"},"encoding":{"text":{"field":"t"}}},
{"data":{"name":"b2t"},"mark":{"type":"text","style":"ttl"},"encoding":{"text":{"field":"t"}}}]},

{"width":3290,"height":2531,"encoding":{"x":{"field":"x","type":"quantitative","title":null,"scale":{"domain":[1.115,7.27],"range":[1116,1541],"nice":false,"zero":false},"axis":{"title":null,"offset":-1175.5,"tickSize":{"condition":{"test":"datum.value%1==0||datum.value==2.06","value":10},"value":5},"tickWidth":{"condition":{"test":"datum.value%1==0||datum.value==2.06","value":2.5},"value":1.5},"values":[1.3,1.5,1.7,1.93,1.96,1.99,2.02,2.06,2.09,2.11,2.14,2.17,2.2,2.4,2.6,2.8,2.98,3.15,3.3,3.4,3.5,3.6,3.7,3.78,3.85,3.9,3.95,4,4.3,4.48,4.6,4.7,4.78,4.85,4.9,4.95,5,5.3,5.48,5.6,5.7,5.78,5.85,5.9,5.95,6,6.3,6.48,6.6,6.7,6.78,6.85,6.9,6.95,7],"labelExpr":"datum.value==2.06?'0':datum.value%1?'':'10'+{4:'⁴',5:'⁵',6:'⁶',7:'⁷'}[datum.value]"}},"y":{"field":"y","type":"quantitative","title":null,"scale":{"domain":[1.48,6.216],"range":[1355.5,931],"nice":false,"zero":false},"axis":{"title":null,"offset":-1116,"tickSize":{"condition":{"test":"indexof([1.87,2.44,3,4.14,5.08,6],datum.value)>=0","value":10},"value":5},"tickWidth":{"condition":{"test":"indexof([1.87,2.44,3,4.14,5.08,6],datum.value)>=0","value":2.5},"value":1.5},"values":[1.55,1.65,1.75,1.87,1.95,2.05,2.15,2.25,2.38,2.395,2.41,2.425,2.44,2.455,2.47,2.485,2.6,2.7,2.8,2.9,3,3.3,3.48,3.6,3.7,3.78,3.85,3.9,4.14,4.4,4.55,4.65,4.75,4.85,4.95,5.08,5.33,5.5,5.6,5.7,5.8,5.9,5.95,6],"labelExpr":"datum.value==1.87?'-10³':datum.value==2.44?'0':datum.value==3?'10³':datum.value==4.14?'10⁴':datum.value==5.08?'10⁵':datum.value==6?'10⁶':''"}}},
"layer":[{"data":{"name":"fb"},"mark":{"type":"rect","style":"fr"},"encoding":{"x2":{"field":"x2"},"y2":{"field":"y2"}}},{"data":{"name":"gb"},"mark":{"type":"rect","style":"gate"},"encoding":{"x2":{"field":"x2"},"y2":{"field":"y2"}}},
{"data":{"name":"b3b"},"mark":{"type":"area","orient":"horizontal","style":"blob"},"encoding":{"x2":{"field":"x2"}}},
{"data":{"name":"b3c"},"mark":{"type":"area","orient":"horizontal","style":"c1","fill":"#bdbdbd"},"encoding":{"x2":{"field":"x2"}}},
{"data":{"name":"b3d"},"mark":{"type":"area","orient":"horizontal","style":"c2","fill":"#929292"},"encoding":{"x2":{"field":"x2"},"detail":{"field":"g"}}},
{"data":{"name":"b3w"},"mark":{"type":"circle","style":"wp","fill":"#fff"}},
{"data":{"name":"b3p"},"mark":{"type":"square","style":"bp"}},
{"data":{"name":"b3v"},"mark":{"type":"text","style":"valb"},"encoding":{"text":{"field":"t"}}},
{"data":{"name":"b3t"},"mark":{"type":"text","style":"ttl"},"encoding":{"text":{"field":"t"}}}]},

{"width":3290,"height":2531,"encoding":{"x":{"field":"x","type":"quantitative","title":null,"scale":{"domain":[1.115,7.27],"range":[1585,2010],"nice":false,"zero":false},"axis":{"title":null,"offset":-1175.5,"tickSize":{"condition":{"test":"datum.value%1==0||datum.value==2.06","value":10},"value":5},"tickWidth":{"condition":{"test":"datum.value%1==0||datum.value==2.06","value":2.5},"value":1.5},"values":[1.3,1.5,1.7,1.93,1.96,1.99,2.02,2.06,2.09,2.11,2.14,2.17,2.2,2.4,2.6,2.8,2.98,3.15,3.3,3.4,3.5,3.6,3.7,3.78,3.85,3.9,3.95,4,4.3,4.48,4.6,4.7,4.78,4.85,4.9,4.95,5,5.3,5.48,5.6,5.7,5.78,5.85,5.9,5.95,6,6.3,6.48,6.6,6.7,6.78,6.85,6.9,6.95,7],"labelExpr":"datum.value==2.06?'0':datum.value%1?'':'10'+{4:'⁴',5:'⁵',6:'⁶',7:'⁷'}[datum.value]"}},"y":{"field":"y","type":"quantitative","title":null,"scale":{"domain":[1.48,6.216],"range":[1355.5,931],"nice":false,"zero":false},"axis":{"title":null,"offset":-1585,"tickSize":{"condition":{"test":"indexof([1.87,2.44,3,4.14,5.08,6],datum.value)>=0","value":10},"value":5},"tickWidth":{"condition":{"test":"indexof([1.87,2.44,3,4.14,5.08,6],datum.value)>=0","value":2.5},"value":1.5},"values":[1.55,1.65,1.75,1.87,1.95,2.05,2.15,2.25,2.38,2.395,2.41,2.425,2.44,2.455,2.47,2.485,2.6,2.7,2.8,2.9,3,3.3,3.48,3.6,3.7,3.78,3.85,3.9,4.14,4.4,4.55,4.65,4.75,4.85,4.95,5.08,5.33,5.5,5.6,5.7,5.8,5.9,5.95,6],"labelExpr":"datum.value==1.87?'-10³':datum.value==2.44?'0':datum.value==3?'10³':datum.value==4.14?'10⁴':datum.value==5.08?'10⁵':datum.value==6?'10⁶':''"}}},
"layer":[{"data":{"name":"fb"},"mark":{"type":"rect","style":"fr"},"encoding":{"x2":{"field":"x2"},"y2":{"field":"y2"}}},{"data":{"name":"gb"},"mark":{"type":"rect","style":"gate"},"encoding":{"x2":{"field":"x2"},"y2":{"field":"y2"}}},
{"data":{"name":"b4b"},"mark":{"type":"area","orient":"horizontal","style":"blob"},"encoding":{"x2":{"field":"x2"}}},
{"data":{"name":"b4c"},"mark":{"type":"area","orient":"horizontal","style":"c1","fill":"#bdbdbd"},"encoding":{"x2":{"field":"x2"}}},
{"data":{"name":"b4d"},"mark":{"type":"area","orient":"horizontal","style":"c2","fill":"#929292"},"encoding":{"x2":{"field":"x2"},"detail":{"field":"g"}}},
{"data":{"name":"b4w"},"mark":{"type":"circle","style":"wp","fill":"#fff"}},
{"data":{"name":"b4p"},"mark":{"type":"square","style":"bp"}},
{"data":{"name":"b4v"},"mark":{"type":"text","style":"valb"},"encoding":{"text":{"field":"t"}}},
{"data":{"name":"b4t"},"mark":{"type":"text","style":"ttl"},"encoding":{"text":{"field":"t"}}}]},

{"width":3290,"height":2531,"encoding":{"x":{"field":"x","type":"quantitative","title":null,"scale":{"domain":[0.5,2.51],"range":[2846.5,3154],"nice":false,"zero":false},"axis":{"title":null,"offset":-348,"values":[1,2],"domain":true,"domainColor":"#444","domainWidth":3,"tickColor":"#444","tickWidth":3,"tickSize":12,"labelAngle":-45,"labelAlign":"right","labelBaseline":"middle","labelPadding":14,"labelOffset":0,"labelFont":"Liberation Sans","labelFontWeight":"bold","labelFontSize":48,"labelColor":"#222","labelExpr":"datum.value==1?'TCD8⁺ +Lactate':'T CD8⁺'"}},"y":{"field":"y","type":"quantitative","stack":null,"scale":{"domain":[0,3000],"range":[2183,1669],"nice":false,"zero":false},"axis":{"offset":-2846.5,"values":[0,1000,2000,3000],"domain":true,"domainColor":"#444","domainWidth":3,"tickColor":"#444","tickWidth":3,"tickSize":10,"labelFontSize":30,"labelColor":"#444","labelPadding":6,"format":"d","title":["Mean Fluorescence Intensity","(MFI)"],"titleFont":"Liberation Sans","titleFontWeight":"bold","titleFontSize":51,"titleColor":"#000","titleLineHeight":60,"titlePadding":8}}},
"layer":[{"data":{"name":"ebe"},"mark":{"type":"rule","style":"er"},"encoding":{"y2":{"field":"y2"}}},
{"data":{"name":"ebc"},"mark":{"type":"rule","style":"ln"},"encoding":{"x2":{"field":"x2"}}},
{"data":{"name":"ebb"},"mark":{"type":"rect","style":"bar"},"encoding":{"x2":{"field":"x2"},"y2":{"field":"y2"},"fill":{"field":"g","scale":{"domain":["k","w"],"range":["#000","#fff"]},"legend":null}}},
{"data":{"name":"ebs"},"mark":{"type":"rule","style":"er"},"encoding":{"x2":{"field":"x2"}}},
{"data":{"name":"ebt"},"mark":{"type":"text","style":"star"},"encoding":{"text":{"field":"t"}}}]},

{"width":3290,"height":2531,"encoding":{"x":{"field":"x","type":"quantitative","title":null,"scale":{"domain":[0.49,2.53],"range":[1226,1532],"nice":false,"zero":false},"axis":{"title":null,"offset":-332,"values":[1,2],"domain":true,"domainColor":"#444","domainWidth":3,"tickColor":"#444","tickWidth":3,"tickSize":12,"labelAngle":-45,"labelAlign":"right","labelBaseline":"middle","labelPadding":14,"labelOffset":0,"labelFont":"Liberation Sans","labelFontWeight":"bold","labelFontSize":48,"labelColor":"#222","labelExpr":"datum.value==1?'TCD8⁺ +Lactate':'T CD8⁺'"}},"y":{"field":"y","type":"quantitative","stack":null,"scale":{"domain":[0,8000],"range":[2199,1678],"nice":false,"zero":false},"axis":{"offset":-1226,"values":[0,2000,4000,6000,8000],"domain":true,"domainColor":"#444","domainWidth":3,"tickColor":"#444","tickWidth":3,"tickSize":10,"labelFontSize":30,"labelColor":"#444","labelPadding":6,"format":"d","title":["Mean Fluorescence Intensity","(MFI)"],"titleFont":"Liberation Sans","titleFontWeight":"bold","titleFontSize":51,"titleColor":"#000","titleLineHeight":60,"titlePadding":8}}},
"layer":[{"data":{"name":"dbe"},"mark":{"type":"rule","style":"er"},"encoding":{"y2":{"field":"y2"}}},
{"data":{"name":"dbc"},"mark":{"type":"rule","style":"ln"},"encoding":{"x2":{"field":"x2"}}},
{"data":{"name":"dbb"},"mark":{"type":"rect","style":"bar"},"encoding":{"x2":{"field":"x2"},"y2":{"field":"y2"},"fill":{"field":"g","scale":{"domain":["k","w"],"range":["#000","#fff"]},"legend":null}}},
{"data":{"name":"dbs"},"mark":{"type":"rule","style":"er"},"encoding":{"x2":{"field":"x2"}}},
{"data":{"name":"dbt"},"mark":{"type":"text","style":"star"},"encoding":{"text":{"field":"t"}}}]},

{"width":3290,"height":2531,"encoding":{"x":{"field":"x","type":"quantitative","title":null,"scale":{"domain":[1.13,7.24],"range":[217,700],"nice":false,"zero":false},"axis":{"title":null,"offset":-309,"tickSize":{"condition":{"test":"datum.value%1==0||datum.value==2.24","value":10},"value":5},"tickWidth":{"condition":{"test":"datum.value%1==0||datum.value==2.24","value":2.5},"value":1.5},"values":[1.5,1.7,1.9,2.05,2.15,2.18,2.21,2.24,2.27,2.3,2.5,2.7,2.9,3.1,3.3,3.5,3.6,3.7,3.78,3.85,3.9,3.95,4,4.3,4.48,4.6,4.7,4.78,4.85,4.9,4.95,5,5.3,5.48,5.6,5.7,5.78,5.85,5.9,5.95,6,6.3,6.48,6.6,6.7,6.78,6.85,6.9,6.95,7],"labelExpr":"datum.value==2.24?'0':datum.value%1?'':'10'+{4:'⁴',5:'⁵',6:'⁶',7:'⁷'}[datum.value]"}},"y":{"field":"y","type":"quantitative","title":null,"stack":null,"scale":{"domain":[-0.33,104.8],"range":[2222,1740],"nice":false,"zero":false},"axis":{"title":null,"offset":-217,"tickSize":{"condition":{"test":"datum.value%20==0","value":10},"value":5},"tickWidth":{"condition":{"test":"datum.value%20==0","value":2.5},"value":1.5},"values":[0,5,10,15,20,25,30,35,40,45,50,55,60,65,70,75,80,85,90,95,100],"labelExpr":"datum.value%20?'':datum.value"}}},
"layer":[{"data":{"name":"fd"},"mark":{"type":"rect","style":"fr"},"encoding":{"x2":{"field":"x2"},"y2":{"field":"y2"}}},
{"data":{"name":"dg"},"mark":{"type":"area","style":"hg","fill":"#e3e3e3"}},
{"data":{"name":"dd"},"mark":{"type":"line","style":"hdot"}},
{"data":{"name":"dbx"},"mark":{"type":"rect","style":"box","fill":"#fff"},"encoding":{"x2":{"field":"x2"},"y2":{"field":"y2"}}},
{"data":{"name":"ds1"},"mark":{"type":"rect","fill":"#808080"},"encoding":{"x2":{"field":"x2"},"y2":{"field":"y2"}}},
{"data":{"name":"ds2"},"mark":{"type":"rect","style":"swk","fill":"#fff"},"encoding":{"x2":{"field":"x2"},"y2":{"field":"y2"}}},
{"data":{"name":"dtx"},"mark":{"type":"text","style":"lg"},"encoding":{"text":{"field":"t"}}},
{"data":{"name":"dar"},"mark":{"type":"line","style":"arr"},"encoding":{"order":{"field":"i","type":"quantitative"},"detail":{"field":"g"}}},
{"data":{"name":"dhd"},"mark":{"type":"text","style":"hd"},"encoding":{"text":{"field":"t"}}},
{"data":{"name":"dul"},"mark":{"type":"rule","style":"ln"},"encoding":{"x2":{"field":"x2"}}},
{"data":{"name":"dl"},"mark":{"type":"text","style":"let"},"encoding":{"text":{"field":"t"}}}]},

{"width":3290,"height":2531,"encoding":{"x":{"field":"x","type":"quantitative","title":null,"scale":{"domain":[1.18,6.26],"range":[1886.6,2376.6],"nice":false,"zero":false},"axis":{"title":null,"offset":-293.5,"tickSize":{"condition":{"test":"datum.value%1==0||datum.value==2.23","value":10},"value":5},"tickWidth":{"condition":{"test":"datum.value%1==0||datum.value==2.23","value":2.5},"value":1.5},"values":[1.5,1.7,1.9,2.05,2.15,2.18,2.21,2.23,2.27,2.3,2.5,2.7,2.9,3.1,3.3,3.5,3.6,3.7,3.78,3.85,3.9,3.95,4,4.3,4.48,4.6,4.7,4.78,4.85,4.9,4.95,5,5.3,5.48,5.6,5.7,5.78,5.85,5.9,5.95,6],"labelExpr":"datum.value==2.23?'0':datum.value%1?'':'10'+{4:'⁴',5:'⁵',6:'⁶'}[datum.value]"}},"y":{"field":"y","type":"quantitative","title":null,"stack":null,"scale":{"domain":[-0.33,104.6],"range":[2237.5,1751.5],"nice":false,"zero":false},"axis":{"title":null,"offset":-1886.6,"tickSize":{"condition":{"test":"datum.value%20==0","value":10},"value":5},"tickWidth":{"condition":{"test":"datum.value%20==0","value":2.5},"value":1.5},"values":[0,5,10,15,20,25,30,35,40,45,50,55,60,65,70,75,80,85,90,95,100],"labelExpr":"datum.value%20?'':datum.value"}}},
"layer":[{"data":{"name":"fe"},"mark":{"type":"rect","style":"fr"},"encoding":{"x2":{"field":"x2"},"y2":{"field":"y2"}}},
{"data":{"name":"eg"},"mark":{"type":"area","style":"hg","fill":"#e3e3e3"}},
{"data":{"name":"ed"},"mark":{"type":"line","style":"hdot"}},
{"data":{"name":"ebx"},"mark":{"type":"rect","style":"box","fill":"#fff"},"encoding":{"x2":{"field":"x2"},"y2":{"field":"y2"}}},
{"data":{"name":"es1"},"mark":{"type":"rect","fill":"#808080"},"encoding":{"x2":{"field":"x2"},"y2":{"field":"y2"}}},
{"data":{"name":"es2"},"mark":{"type":"rect","style":"swk","fill":"#fff"},"encoding":{"x2":{"field":"x2"},"y2":{"field":"y2"}}},
{"data":{"name":"etx"},"mark":{"type":"text","style":"lg"},"encoding":{"text":{"field":"t"}}},
{"data":{"name":"ear"},"mark":{"type":"line","style":"arr"},"encoding":{"order":{"field":"i","type":"quantitative"},"detail":{"field":"g"}}},
{"data":{"name":"ehd"},"mark":{"type":"text","style":"hd"},"encoding":{"text":{"field":"t"}}},
{"data":{"name":"eul"},"mark":{"type":"rule","style":"ln"},"encoding":{"x2":{"field":"x2"}}},
{"data":{"name":"el"},"mark":{"type":"text","style":"let"},"encoding":{"text":{"field":"t"}}}]}
]}
